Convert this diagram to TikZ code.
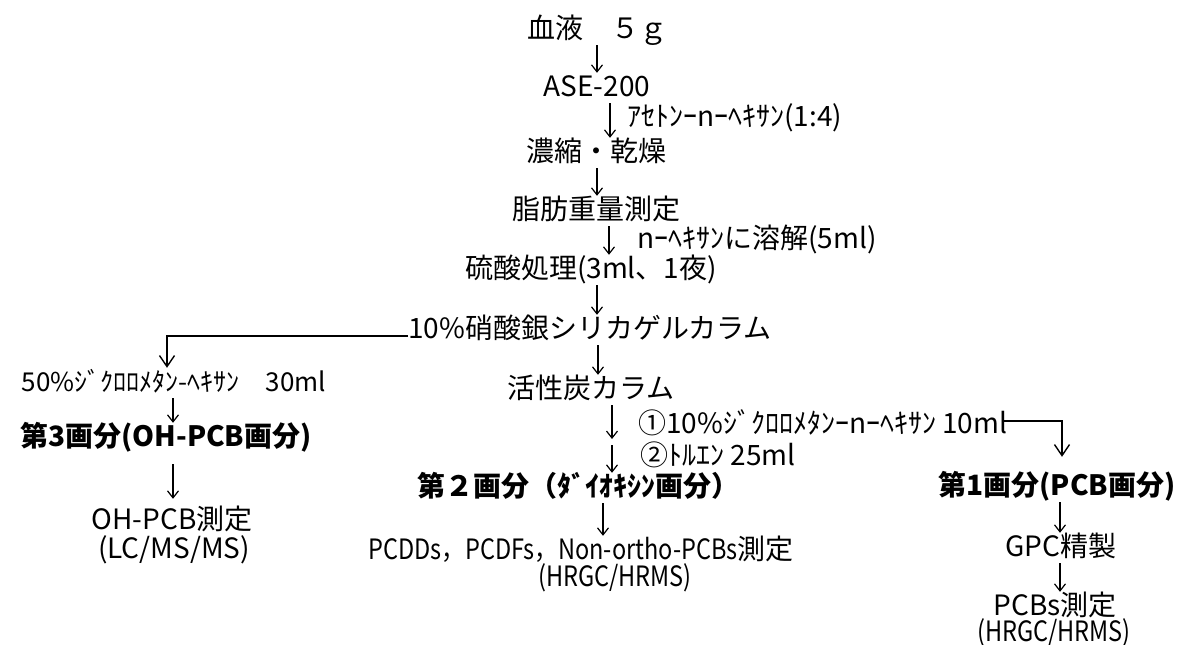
\documentclass[tikz,border=0pt]{standalone}
\usepackage{fontspec}
\setmainfont{Noto Sans CJK JP}
\newfontfamily\cond{Noto Sans CJK JP}[FakeStretch=0.84]
\usetikzlibrary{arrows.meta}
\begin{document}
\begin{tikzpicture}[x=1pt,y=-1pt,
  every node/.style={inner sep=0pt, text height=20pt, text depth=4pt},
  main/.style={font=\fontsize{28}{30}\selectfont},
  bmain/.style={font=\fontsize{28}{30}\selectfont\bfseries},
  small/.style={font=\fontsize{26}{28}\selectfont},
  lab/.style={font=\fontsize{28}{30}\selectfont, anchor=west},
  arr/.style={line width=1.2pt, -{Straight Barb[length=7pt,width=11pt]}, shorten <=3pt, shorten >=3pt},
  larr/.style={line width=1.4pt, -{Straight Barb[length=11pt,width=15pt]}},
  ]
\useasboundingbox (0,0) rectangle (1179,645);
% main column
\node[main] (blood) at (597,30) {血液　５ｇ};
\node[main] (ase) at (597,88) {ASE-200};
\node[main] (conc) at (596,153) {濃縮・乾燥};
\node[main] (fat) at (596,211) {脂肪重量測定};
\node[main] (acid) at (591,270) {硫酸処理(3ml、1夜)};
\node[main] (silica) at (590,330) {10\%硝酸銀シリカゲルカラム};
\node[main] (carbon) at (591,390) {活性炭カラム};
\node[bmain] (frac2) at (578,488) {第２画分（ﾀﾞｲｵｷｼﾝ画分）};
\node[main] (meas2) at (581,551) {{\cond PCDDs，PCDFs，Non-ortho-PCBs}測定};
\node[main] (meas2b) at (615,578) {\cond (HRGC/HRMS)};
% labels
\node[lab] (l1) at (627,118) {ｱｾﾄﾝｰnｰﾍｷｻﾝ(1:4)};
\node[lab] (l2) at (637,240) {nｰﾍｷｻﾝに溶解(5ml)};
\node[lab] (l3) at (638,425) {①10\%ｼﾞｸﾛﾛﾒﾀﾝｰnｰﾍｷｻﾝ 10ml};
\node[lab] (l4) at (640,457) {②ﾄﾙｴﾝ 25ml};
% left branch
\node[small] (solv3) at (174,383) {50\%ｼﾞｸﾛﾛﾒﾀﾝ-ﾍｷｻﾝ　30ml};
\node[bmain] (frac3) at (166,438) {第3画分(OH-PCB画分)};
\node[main] (meas3) at (172,521) {OH-PCB測定};
\node[main] (meas3b) at (174,550) {(LC/MS/MS)};
% right branch
\node[bmain] (frac1) at (1057,487) {第1画分(PCB画分)};
\node[main] (gpc) at (1061,548) {GPC精製};
\node[main] (meas1) at (1055,607) {PCBs測定};
\node[main] (meas1b) at (1054,633) {\cond (HRGC/HRMS)};
% arrows
\draw[arr] (blood.south -| 597,0) -- (ase.north -| 597,0);
\draw[arr] (ase.south -| 610,0) -- (conc.north -| 610,0);
\draw[arr] (conc.south -| 597,0) -- (fat.north -| 597,0);
\draw[arr] (fat.south -| 609,0) -- (acid.north -| 609,0);
\draw[arr] (acid.south -| 597,0) -- (silica.north -| 597,0);
\draw[arr] (silica.south -| 598,0) -- (carbon.north -| 598,0);
\coordinate (mid) at (612,442);
\draw[arr] (carbon.south -| 612,0) -- (mid);
\draw[arr] (mid) -- (frac2.north -| 612,0);
\draw[arr] (frac2.south -| 603,0) -- (meas2.north -| 603,0);
\draw[arr] (solv3.south -| 173,0) -- (frac3.north -| 173,0);
\draw[arr, shorten <=14pt, shorten >=10pt] (frac3.south -| 173,0) -- (meas3.north -| 173,0);
\draw[arr] (frac1.south -| 1060,0) -- (gpc.north -| 1060,0);
\draw[arr] (gpc.south -| 1060,0) -- (meas1.north -| 1060,0);
% branch lines
\draw[larr, shorten >=3pt] ([yshift=-6pt]silica.west) -| (solv3.north -| 167,0);
\draw[larr, shorten >=18pt] ([xshift=-4pt,yshift=4pt]l3.east) -| (frac1.north -| 1062,0);
\end{tikzpicture}
\end{document}
